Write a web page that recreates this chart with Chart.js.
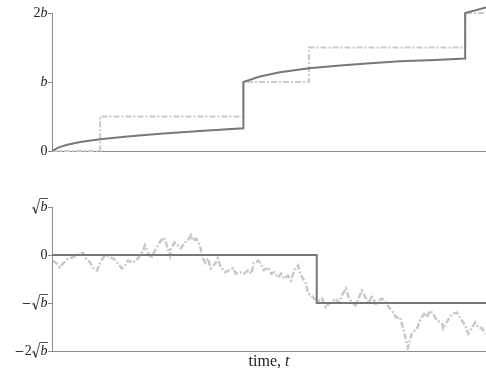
<!DOCTYPE html>
<html>
<head>
<meta charset="utf-8">
<script src="https://cdn.jsdelivr.net/npm/chart.js@4/dist/chart.umd.min.js"></script>
<style>
html,body{margin:0;padding:0;background:#fff;}
#wrap{position:relative;width:486px;height:374px;overflow:hidden;}
canvas{position:absolute;left:0;}
</style>
</head>
<body>
<div id="wrap">
<canvas id="top" width="486" height="170" style="top:0"></canvas>
<canvas id="bottom" width="486" height="204" style="top:170px"></canvas>
</div>
<script>
// ---- data (time normalised to [0,1]; top panel in units of b, bottom in units of sqrt(b)) ----
const topSolidT = [0, 0.014, 0.035, 0.065, 0.111, 0.180, 0.249, 0.341, 0.441, 0.441, 0.479, 0.525, 0.592, 0.664, 0.733, 0.802, 0.882, 0.952, 0.952, 1.0];
const topSolidV = [0, 0.05, 0.09, 0.13, 0.17, 0.215, 0.25, 0.29, 0.33, 1.0, 1.08, 1.14, 1.20, 1.24, 1.27, 1.30, 1.32, 1.34, 2.0, 2.08];

const topStepT = [0, 0.111, 0.441, 0.592, 0.952, 1.0];
const topStepV = [0, 0.5, 1.0, 1.5, 2.0, 2.0];

const bottomStepT = [0, 0.610, 1.0];
const bottomStepV = [0, -1, -1];

const walkT = [0.002,0.012,0.018,0.025,0.037,0.048,0.060,0.071,0.078,0.088,0.094,0.104,0.111,0.118,0.127,0.134,0.141,0.152,0.161,0.168,0.175,0.187,0.198,0.210,0.214,0.221,0.228,0.237,0.244,0.251,0.258,0.263,0.272,0.274,0.283,0.290,0.297,0.306,0.313,0.320,0.325,0.332,0.341,0.346,0.353,0.359,0.366,0.376,0.382,0.389,0.399,0.408,0.417,0.424,0.435,0.442,0.452,0.459,0.465,0.475,0.482,0.488,0.498,0.505,0.512,0.521,0.528,0.535,0.544,0.551,0.558,0.567,0.571,0.578,0.585,0.590,0.597,0.604,0.615,0.622,0.631,0.638,0.645,0.654,0.661,0.668,0.677,0.684,0.691,0.700,0.707,0.714,0.724,0.730,0.737,0.747,0.753,0.760,0.770,0.776,0.783,0.793,0.802,0.809,0.818,0.820,0.829,0.841,0.848,0.859,0.864,0.871,0.878,0.887,0.899,0.901,0.912,0.924,0.933,0.940,0.952,0.959,0.968,0.975,0.982,0.991,0.998];
const walkV = [-0.12,-0.18,-0.26,-0.18,-0.07,-0.05,0.01,0.05,-0.07,-0.16,-0.26,-0.32,-0.16,-0.05,-0.01,-0.05,-0.07,-0.18,-0.28,-0.22,-0.12,-0.16,-0.07,0.09,0.20,0.05,-0.07,0.09,0.20,0.30,0.36,0.24,-0.01,0.14,0.26,0.20,0.14,0.26,0.30,0.41,0.30,0.34,0.20,-0.05,-0.16,-0.07,-0.28,-0.18,-0.07,-0.26,-0.36,-0.32,-0.28,-0.39,-0.36,-0.39,-0.32,-0.39,-0.16,-0.12,-0.18,-0.32,-0.26,-0.39,-0.36,-0.47,-0.39,-0.49,-0.43,-0.53,-0.32,-0.22,-0.36,-0.49,-0.59,-0.80,-0.84,-0.91,-0.95,-0.91,-1.09,-1.01,-0.99,-0.91,-0.99,-0.84,-0.70,-0.89,-0.99,-1.05,-0.89,-0.74,-0.91,-1.01,-0.84,-1.05,-0.95,-0.91,-0.99,-1.09,-1.16,-1.30,-1.30,-1.53,-1.84,-1.93,-1.64,-1.53,-1.36,-1.20,-1.30,-1.16,-1.22,-1.36,-1.43,-1.53,-1.36,-1.22,-1.20,-1.30,-1.47,-1.64,-1.51,-1.41,-1.51,-1.53,-1.64];

const topTicks = [0, 1, 2];
const topTickLabels = ['0', 'b', '2b'];
const bottomTicks = [-2, -1, 0, 1];
const bottomTickLabels = ['\u22122\u221Ab', '\u2212\u221Ab', '0', '\u221Ab'];
const xTitleText = 'time, ';
const xTitleVar = 't';

// ---- helpers ----
const SERIF = '"Liberation Serif", "DejaVu Serif", serif';
const TEXT = '#222';
function pts(T, V) { return T.map((t, i) => ({x: t, y: V[i]})); }
function fontFor(italic, size) { return (italic ? 'italic ' : '') + size + 'px ' + SERIF; }
function advance(ctx, ch, italic, size) {
  ctx.font = fontFor(italic, size);
  if (ch === '\u2212') return size * 0.72;
  if (ch === '\u221A') return size * 0.62;
  return ctx.measureText(ch).width;
}
function drawMath(ctx, str, xRight, yMid, size) {
  const toks = [...str].map(ch => ({ch, italic: /[A-Za-z]/.test(ch)}));
  const w = toks.map(t => advance(ctx, t.ch, t.italic, size));
  let x = xRight - w.reduce((a, b) => a + b, 0);
  ctx.save();
  ctx.fillStyle = TEXT; ctx.strokeStyle = TEXT;
  ctx.textBaseline = 'middle';
  let rad = null;
  toks.forEach((t, i) => {
    ctx.font = fontFor(t.italic, size);
    if (t.ch === '\u2212') {
      ctx.lineWidth = 0.9;
      const yy = Math.round(yMid) + 0.5;
      ctx.beginPath(); ctx.moveTo(x + 1, yy); ctx.lineTo(x + w[i] - 1.5, yy); ctx.stroke();
    } else if (t.ch === '\u221A') {
      rad = x;
    } else {
      ctx.textAlign = 'left';
      ctx.fillText(t.ch, x, yMid);
    }
    x += w[i];
  });
  if (rad !== null) {
    const r = rad, top = yMid - 8.5;
    ctx.lineJoin = 'miter';
    ctx.beginPath();
    ctx.lineWidth = 0.8;
    ctx.moveTo(r + 0.3, yMid + 1.2);
    ctx.lineTo(r + 1.8, yMid + 0.2);
    ctx.stroke();
    ctx.beginPath();
    ctx.lineWidth = 1.3;
    ctx.moveTo(r + 1.8, yMid + 0.2);
    ctx.lineTo(r + 4.0, yMid + 6.3);
    ctx.stroke();
    ctx.beginPath();
    ctx.lineWidth = 0.8;
    ctx.moveTo(r + 4.0, yMid + 6.3);
    ctx.lineTo(r + 8.0, top);
    ctx.lineTo(x + 0.5, top);
    ctx.stroke();
  }
  ctx.restore();
}
const mathLabels = {
  id: 'mathLabels',
  afterDraw(chart, args, opts) {
    const ctx = chart.ctx, y = chart.scales.y, xs = chart.scales.x;
    opts.ticks.forEach((v, i) => drawMath(ctx, opts.labels[i], 47.5, y.getPixelForValue(v), 14));
    if (opts.title) {
      ctx.save();
      ctx.fillStyle = TEXT; ctx.textBaseline = 'alphabetic'; ctx.textAlign = 'left';
      ctx.font = fontFor(false, 16);
      const w1 = ctx.measureText(opts.title[0]).width;
      ctx.font = fontFor(true, 16);
      const w2 = ctx.measureText(opts.title[1]).width;
      const cx = (xs.left + xs.right) / 2;
      const x0 = cx - (w1 + w2) / 2;
      const by = xs.top + 15;
      ctx.font = fontFor(false, 16); ctx.fillText(opts.title[0], x0, by);
      ctx.font = fontFor(true, 16); ctx.fillText(opts.title[1], x0 + w1, by);
      ctx.restore();
    }
  }
};
const SOLID = '#787878', LIGHT = '#c9c9c9', AXIS = '#8a8a8a';
const DASH = [6, 2, 2, 2];
function baseOptions(padTop, xHeight, yMin, yMax, ticks, labels, title) {
  return {
    responsive: false, animation: false, devicePixelRatio: 1,
    layout: {padding: {top: padTop, left: 0, right: 0, bottom: 0}},
    plugins: {legend: {display: false}, tooltip: {enabled: false},
      mathLabels: {ticks: ticks, labels: labels, title: title}},
    scales: {
      x: {type: 'linear', min: 0, max: 1, ticks: {display: false}, grid: {display: false},
          border: {display: true, color: AXIS, width: 1}, afterFit(s) { s.height = xHeight; }},
      y: {type: 'linear', min: yMin, max: yMax, ticks: {display: false, stepSize: 1},
          grid: {drawOnChartArea: false, drawTicks: true, tickLength: 4, color: AXIS, tickColor: AXIS},
          border: {display: true, color: AXIS, width: 1},
          afterFit(s) { s.width = 52; s.paddingTop = 0; s.paddingBottom = 0; }}
    }
  };
}
new Chart(document.getElementById('top'), {
  type: 'line',
  data: {datasets: [
    {data: pts(topSolidT, topSolidV), borderColor: SOLID, borderWidth: 2, pointRadius: 0, tension: 0, clip: false},
    {data: pts(topStepT, topStepV), borderColor: LIGHT, borderWidth: 2, borderDash: DASH, stepped: 'before', pointRadius: 0, clip: false}
  ]},
  options: baseOptions(13, 19, 0, 2, topTicks, topTickLabels, null),
  plugins: [mathLabels]
});
new Chart(document.getElementById('bottom'), {
  type: 'line',
  data: {datasets: [
    {data: pts(bottomStepT, bottomStepV), borderColor: SOLID, borderWidth: 2, stepped: 'before', pointRadius: 0, clip: false},
    {data: pts(walkT, walkV), borderColor: LIGHT, borderWidth: 2.5, borderDash: DASH, pointRadius: 0, tension: 0, clip: false}
  ]},
  options: baseOptions(37, 23, -2, 1, bottomTicks, bottomTickLabels, [xTitleText, xTitleVar]),
  plugins: [mathLabels]
});
</script>
</body>
</html>
